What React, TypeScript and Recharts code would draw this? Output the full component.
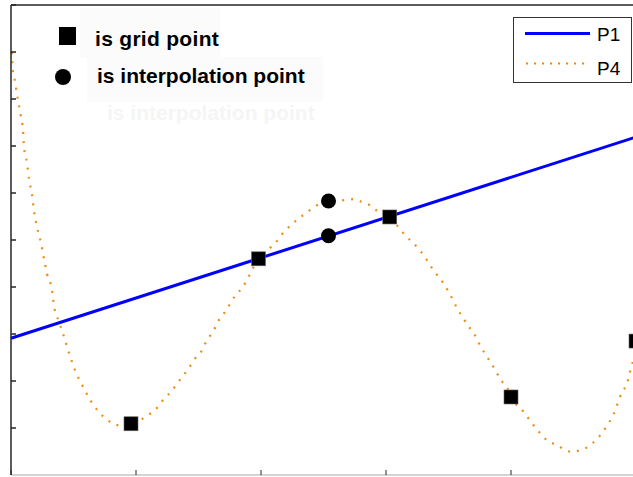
import { ComposedChart, Line, Scatter, XAxis, YAxis } from "recharts";

// axis ticks (labels are cropped off in the reference, only the tick marks show)
const X_TICKS = [0, 1, 2, 3, 4, 5];
const Y_TICKS = [0, 1, 2, 3, 4, 5, 6, 7, 8, 9, 10];

// black squares: the grid points
const GRID_POINTS = [
  { x: 0.96, y: 1.09 },
  { x: 1.98, y: 4.6 },
  { x: 3.03, y: 5.49 },
  { x: 4.0, y: 1.66 },
  { x: 5.0, y: 2.85 },
];

// black circles: the interpolation points
const INTERP_POINTS = [
  { x: 2.54, y: 5.83 },
  { x: 2.54, y: 5.09 },
];

// P1: linear interpolant
const P1 = [
  { x: 0, y: 2.91 },
  { x: 5, y: 7.19 },
];

// P4: quartic interpolant
const P4_RAW: [number, number][] = [
  [0.008, 9.0], [0.016, 8.57], [0.032, 8.38], [0.048, 8.09], [0.064, 7.87],
  [0.08, 7.62], [0.096, 7.34], [0.104, 6.98], [0.128, 6.64], [0.144, 6.3],
  [0.168, 5.96], [0.184, 5.62], [0.208, 5.28], [0.24, 4.94], [0.264, 4.6],
  [0.288, 4.28], [0.328, 3.94], [0.344, 3.6], [0.384, 3.26], [0.424, 2.94],
  [0.464, 2.6], [0.512, 2.23], [0.568, 1.92], [0.64, 1.57], [0.744, 1.23],
  [0.864, 1.06], [0.96, 1.06], [1.048, 1.19], [1.112, 1.3], [1.176, 1.45],
  [1.224, 1.62], [1.28, 1.77], [1.328, 1.94], [1.376, 2.11], [1.424, 2.28],
  [1.464, 2.45], [1.52, 2.62], [1.552, 2.79], [1.592, 2.96], [1.632, 3.13],
  [1.664, 3.3], [1.712, 3.47], [1.752, 3.64], [1.792, 3.81], [1.848, 3.98],
  [1.888, 4.15], [1.92, 4.32], [1.976, 4.6], [2.064, 4.81], [2.128, 4.98],
  [2.176, 5.15], [2.232, 5.3], [2.296, 5.45], [2.36, 5.57], [2.424, 5.7],
  [2.552, 5.83], [2.68, 5.85], [2.744, 5.87], [2.808, 5.81], [2.864, 5.75],
  [2.928, 5.62], [3.032, 5.49], [3.112, 5.23], [3.168, 5.06], [3.224, 4.92],
  [3.28, 4.75], [3.328, 4.57], [3.368, 4.4], [3.416, 4.23], [3.456, 4.09],
  [3.496, 3.92], [3.536, 3.72], [3.568, 3.55], [3.608, 3.38], [3.648, 3.21],
  [3.696, 3.04], [3.728, 2.89], [3.76, 2.72], [3.8, 2.55], [3.84, 2.38],
  [3.88, 2.21], [3.912, 2.04], [3.968, 1.87], [4.0, 1.66], [4.096, 1.36],
  [4.144, 1.19], [4.192, 1.02], [4.24, 0.87], [4.296, 0.72], [4.368, 0.64],
  [4.432, 0.53], [4.496, 0.49], [4.552, 0.53], [4.616, 0.6], [4.68, 0.75],
  [4.736, 0.92], [4.776, 1.09], [4.816, 1.26], [4.84, 1.43], [4.864, 1.6],
  [4.888, 1.77], [4.928, 1.94], [4.944, 2.11], [4.96, 2.28], [4.976, 2.43],
  [5.0, 2.8],
];
const P4 = P4_RAW.map(([x, y]) => ({ x, y }));

const AXIS = "#262626";
const BLUE = "#0000ff";
const ORANGE = "#ee8c18";
const FONT = "'Liberation Sans', Arial, sans-serif";

const Square = (props: any) => (
  <rect x={props.cx - 7} y={props.cy - 7} width={14} height={14} fill="#000" stroke="#666" strokeWidth={0.6} />
);
const Dot = (props: any) => <circle cx={props.cx} cy={props.cy} r={7.5} fill="#000" />;

const noLabel = () => <g />;

export default function App() {
  return (
    <div style={{ position: "absolute", left: 0, top: 0, width: 633, height: 477, overflow: "hidden", background: "#fff" }}>
      <ComposedChart width={660} height={477} margin={{ top: 5, right: 24, bottom: 2, left: 11 }}>
        <XAxis
          xAxisId={0}
          type="number"
          dataKey="x"
          domain={[0, 5]}
          ticks={X_TICKS}
          mirror
          tickSize={5}
          axisLine={{ stroke: "#c4c4c4", strokeWidth: 1.5 }}
          tickLine={{ stroke: AXIS }}
          tick={noLabel}
        />
        <XAxis
          xAxisId="top"
          orientation="top"
          type="number"
          dataKey="x"
          domain={[0, 5]}
          ticks={X_TICKS}
          mirror
          tickSize={5}
          axisLine={{ stroke: AXIS, strokeWidth: 1.5 }}
          tickLine={{ stroke: AXIS }}
          tick={noLabel}
        />
        <YAxis
          type="number"
          dataKey="y"
          domain={[0, 10]}
          ticks={Y_TICKS}
          mirror
          tickSize={5}
          axisLine={{ stroke: AXIS, strokeWidth: 1.5 }}
          tickLine={{ stroke: AXIS, strokeWidth: 1.5 }}
          tick={noLabel}
        />
        <Line
          data={P4}
          dataKey="y"
          type="monotone"
          stroke={ORANGE}
          strokeWidth={2.2}
          strokeDasharray="2 7"
          dot={false}
          activeDot={false}
          isAnimationActive={false}
        />
        <Line
          data={P1}
          dataKey="y"
          type="linear"
          stroke={BLUE}
          strokeWidth={3}
          dot={false}
          activeDot={false}
          isAnimationActive={false}
        />
        <Scatter data={GRID_POINTS} dataKey="y" shape={Square} isAnimationActive={false} />
        <Scatter data={INTERP_POINTS} dataKey="y" shape={Dot} isAnimationActive={false} />
      </ComposedChart>

      <svg width={633} height={477} style={{ position: "absolute", left: 0, top: 0, pointerEvents: "none" }}>
        <rect x={80} y={8} width={140} height={50} fill="#fbfbfb" />
        <rect x={87} y={57} width={236} height={45} fill="#fbfbfb" />
        <text x={107} y={120} fontFamily={FONT} fontWeight="bold" fontSize={21} fill="#f5f5f5">
          is interpolation point
        </text>
        <rect x={59} y={27} width={17} height={18} fill="#000" />
        <circle cx={63} cy={77} r={8} fill="#000" />
        <text x={95} y={46} fontFamily={FONT} fontWeight="bold" fontSize={21} letterSpacing={0.3} fill="#000">
          is grid point
        </text>
        <text x={97} y={83} fontFamily={FONT} fontWeight="bold" fontSize={21} fill="#000">
          is interpolation point
        </text>

        <rect x={513.5} y={17.5} width={118} height={65} fill="#fff" stroke="#333" strokeWidth={1} />
        <line x1={525} y1={33.5} x2={590} y2={33.5} stroke={BLUE} strokeWidth={3} />
        <text x={597} y={41} fontFamily={FONT} fontSize={19} fill="#000">P1</text>
        <line x1={526} y1={63.5} x2={590} y2={63.5} stroke={ORANGE} strokeWidth={2} strokeDasharray="2 6" />
        <text x={597} y={75} fontFamily={FONT} fontSize={19} fill="#000">P4</text>
      </svg>
    </div>
  );
}
